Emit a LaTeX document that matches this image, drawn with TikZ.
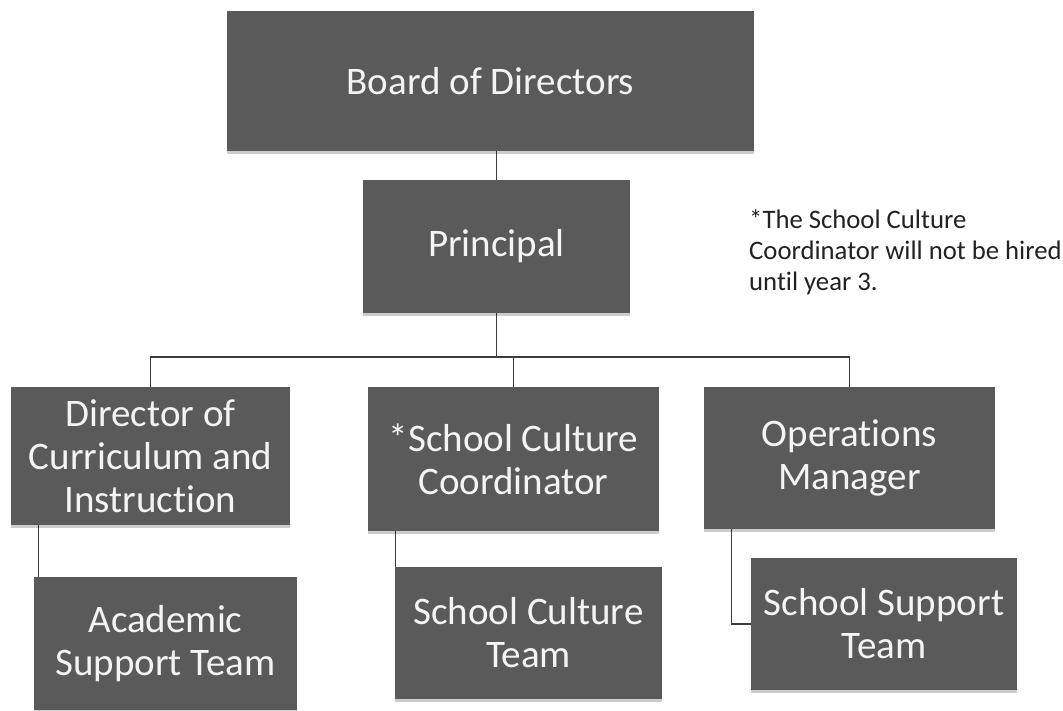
\documentclass[tikz,border=0pt]{standalone}
\usepackage{fontspec}
\setmainfont{Carlito}[Ligatures=NoCommon]
\usetikzlibrary{backgrounds,shadows}
\definecolor{boxgray}{HTML}{5A5A5A}
\definecolor{boxtext}{HTML}{F4F4F4}
\definecolor{linegray}{HTML}{3C3C3C}
\definecolor{notetext}{HTML}{222222}
\begin{document}
\begin{tikzpicture}[x=1pt,y=-1pt,
  unit/.style={rectangle, fill=boxgray, text=boxtext, align=center, inner sep=0pt,
    font=\fontsize{39}{43}\selectfont,
    drop shadow={shadow xshift=0pt, shadow yshift=-3pt, opacity=0.2, fill=black}},
  link/.style={draw=linegray, line width=1.2pt},
  note/.style={align=left, inner sep=0pt, text=notetext, font=\fontsize{26.7}{31}\selectfont}]
\useasboundingbox (0,0) rectangle (1063,710);

% organisation units
\node[unit, minimum width=527pt, minimum height=140pt] (board) at (490.5,81) {Board of Directors};
\node[unit, minimum width=267pt, minimum height=133pt] (principal) at (496.5,246.5) {Principal};
\node[unit, minimum width=279pt, minimum height=138pt] (director) at (150.5,456) {Director of\\Curriculum and\\Instruction};
\node[unit, minimum width=291pt, minimum height=144pt] (coord) at (513.5,459) {*School Culture\\Coordinator};
\node[unit, minimum width=291pt, minimum height=142pt] (ops) at (849.5,458) {Operations\\Manager};
\node[unit, minimum width=263pt, minimum height=133pt] (academic) at (165.5,643.5) {Academic\\Support Team};
\node[unit, minimum width=267pt, minimum height=132pt] (cteam) at (528.5,633) {School Culture\\Team};
\node[unit, minimum width=266pt, minimum height=132pt] (steam) at (884,624) {School Support\\Team};

% footnote
\node[note, anchor=north west] (fn) at (749,209) {*The School Culture\\Coordinator will not be hired\\until year 3.};

% connector anchors
\coordinate (bus) at (496.5,357);
\coordinate (d1) at ([xshift=28pt]director.south west);
\coordinate (c1) at ([xshift=28pt]coord.south west);
\coordinate (o1) at ([xshift=28pt]ops.south west);

\begin{pgfonlayer}{background}
  \fill[white] (0,0) rectangle (1063,710);
  \draw[link] (board.south -| principal.north) -- (principal.north);
  \draw[link] (principal.south) -- (bus);
  \draw[link] (director.north) |- (bus) -| (ops.north);
  \draw[link] (coord.north) -- (coord.north |- bus);
  \draw[link] (d1) |- (academic.west);
  \draw[link] (c1) |- (cteam.west);
  \draw[link] (o1) |- (steam.west);
\end{pgfonlayer}
\end{tikzpicture}
\end{document}
